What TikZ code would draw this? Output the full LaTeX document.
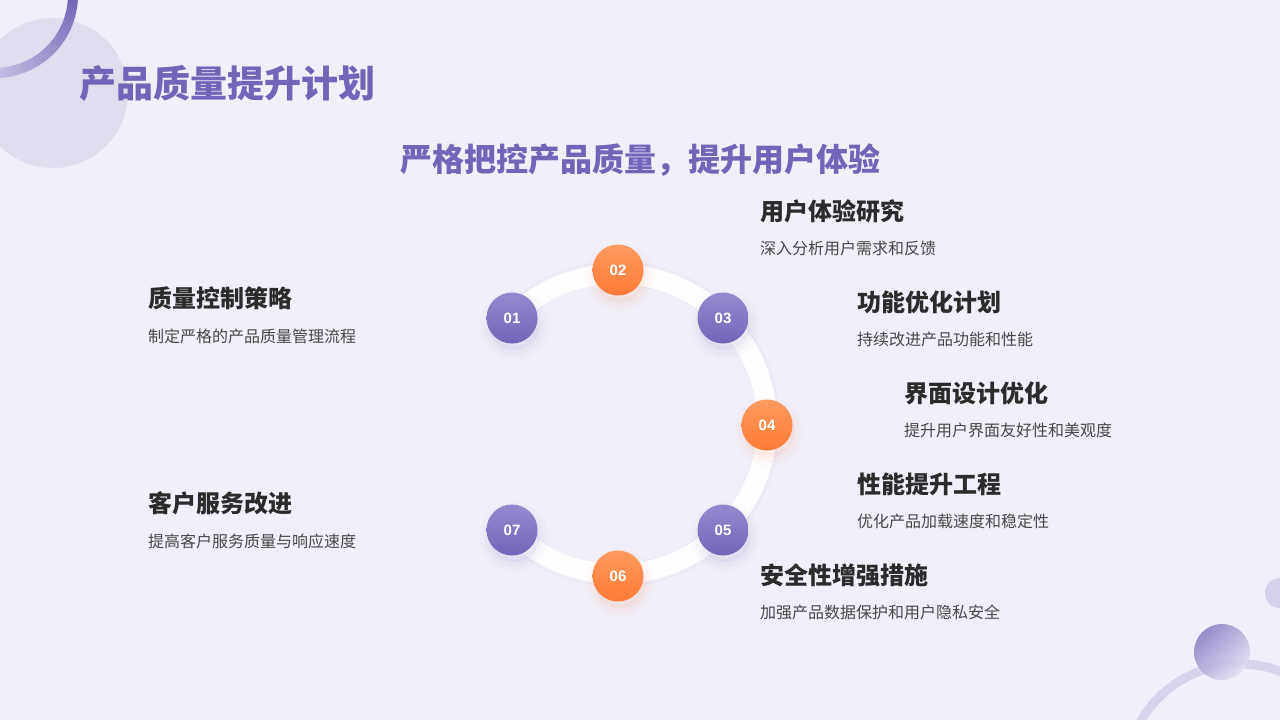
\documentclass[tikz,border=0pt]{standalone}
\usepackage{fontspec}
\setmainfont{Noto Sans CJK SC}
\newfontfamily\numfont{Liberation Sans}
\usepackage{tikz}
\usetikzlibrary{positioning}
\definecolor{pagebg}{HTML}{F1EFF9}
\definecolor{brandpurple}{HTML}{7464B9}
\definecolor{purplelight}{HTML}{9688D0}
\definecolor{brandorange}{HTML}{FF7A38}
\definecolor{orangelight}{HTML}{FF9A5E}
\definecolor{textdark}{HTML}{2B2B2B}
\definecolor{textgray}{HTML}{474747}
\definecolor{decorlight}{HTML}{E1DDEF}

\begin{document}
\begin{tikzpicture}[
  x=1pt, y=-1pt,
  numball/.style={
    circle, minimum size=51pt, inner sep=0pt, text=white,
    font=\numfont\bfseries\fontsize{15}{15}\selectfont,
  },
  softshadow/.style={
    preaction={draw=#1, draw opacity=0.025, line width=18pt, transform canvas={xshift=2pt, yshift=-7pt}},
    preaction={draw=#1, draw opacity=0.035, line width=9pt, transform canvas={xshift=2pt, yshift=-7pt}},
    preaction={fill=#1, fill opacity=0.07, transform canvas={xshift=2pt, yshift=-7pt}},
  },
  purpleball/.style={numball, softshadow=brandpurple, top color=purplelight, bottom color=brandpurple},
  orangeball/.style={numball, softshadow=brandorange, top color=orangelight, bottom color=brandorange},
  itemtitle/.style={anchor=west, inner sep=0pt, text=textdark,
    font=\bfseries\fontsize{24}{28}\selectfont},
  itemdesc/.style={inner sep=0pt, text=textgray,
    font=\fontsize{16}{19}\selectfont},
]

\fill[pagebg] (0,0) rectangle (1280,720);
\useasboundingbox (0,0) rectangle (1280,720);

% corner decorations
\begin{scope}
  \clip (0,0) rectangle (1280,720);
  \fill[decorlight] (53,93) circle[radius=75];
  \foreach \a [evaluate=\a as \k using {100-\a*0.85}] in {0,3,...,87}{
    \draw[brandpurple!\k!decorlight, line width=10pt]
      (-5,-5) ++(\a:78) arc[start angle=\a, end angle=\a+4, radius=78];
  }
  \draw[brandpurple!30, line width=9pt, draw opacity=0.9] (1240,779) circle[radius=115];
  \shade[top color=brandpurple!85, bottom color=brandpurple!20, shading angle=45, opacity=0.85]
    (1222,652) circle[radius=28];
  \fill[brandpurple!30] (1280,593) circle[radius=15];
\end{scope}

% headings
\node[anchor=west, inner sep=0pt, text=brandpurple, font=\bfseries\fontsize{37}{40}\selectfont]
  (title) at (79,83) {产品质量提升计划};
\node[inner sep=0pt, text=brandpurple, font=\bfseries\fontsize{32}{36}\selectfont]
  (subtitle) at (640,160) {严格把控产品质量，提升用户体验};

% ring
\coordinate (hub) at (617,424);
\draw[brandpurple, line width=24pt, draw opacity=0.035]
  (hub) ++(-135:151) arc[start angle=-135, end angle=135, radius=151];
\draw[white, line width=20pt, draw opacity=0.92]
  (hub) ++(-135:150) arc[start angle=-135, end angle=135, radius=150];

\node[purpleball] (s1) at (512,318) {01};
\node[orangeball] (s2) at (618,270) {02};
\node[purpleball] (s3) at (723,318) {03};
\node[orangeball] (s4) at (767,425) {04};
\node[purpleball] (s5) at (723,530) {05};
\node[orangeball] (s6) at (618,576) {06};
\node[purpleball] (s7) at (512,530) {07};

% item texts
\node[itemtitle] (t2) at (760,211) {用户体验研究};
\node[itemdesc, below=37pt of t2.west, anchor=west] (d2) {深入分析用户需求和反馈};

\node[itemtitle] (t3) at (857,302) {功能优化计划};
\node[itemdesc, below=37pt of t3.west, anchor=west] (d3) {持续改进产品功能和性能};

\node[itemtitle] (t4) at (904,393) {界面设计优化};
\node[itemdesc, below=37pt of t4.west, anchor=west] (d4) {提升用户界面友好性和美观度};

\node[itemtitle] (t5) at (857,484) {性能提升工程};
\node[itemdesc, below=37pt of t5.west, anchor=west] (d5) {优化产品加载速度和稳定性};

\node[itemtitle] (t6) at (760,575) {安全性增强措施};
\node[itemdesc, below=37pt of t6.west, anchor=west] (d6) {加强产品数据保护和用户隐私安全};

\node[itemtitle] (t1) at (148,298) {质量控制策略};
\node[itemdesc, below=38pt of t1.west, anchor=west] (d1) {制定严格的产品质量管理流程};

\node[itemtitle] (t7) at (148,503) {客户服务改进};
\node[itemdesc, below=38pt of t7.west, anchor=west] (d7) {提高客户服务质量与响应速度};

\end{tikzpicture}
\end{document}
